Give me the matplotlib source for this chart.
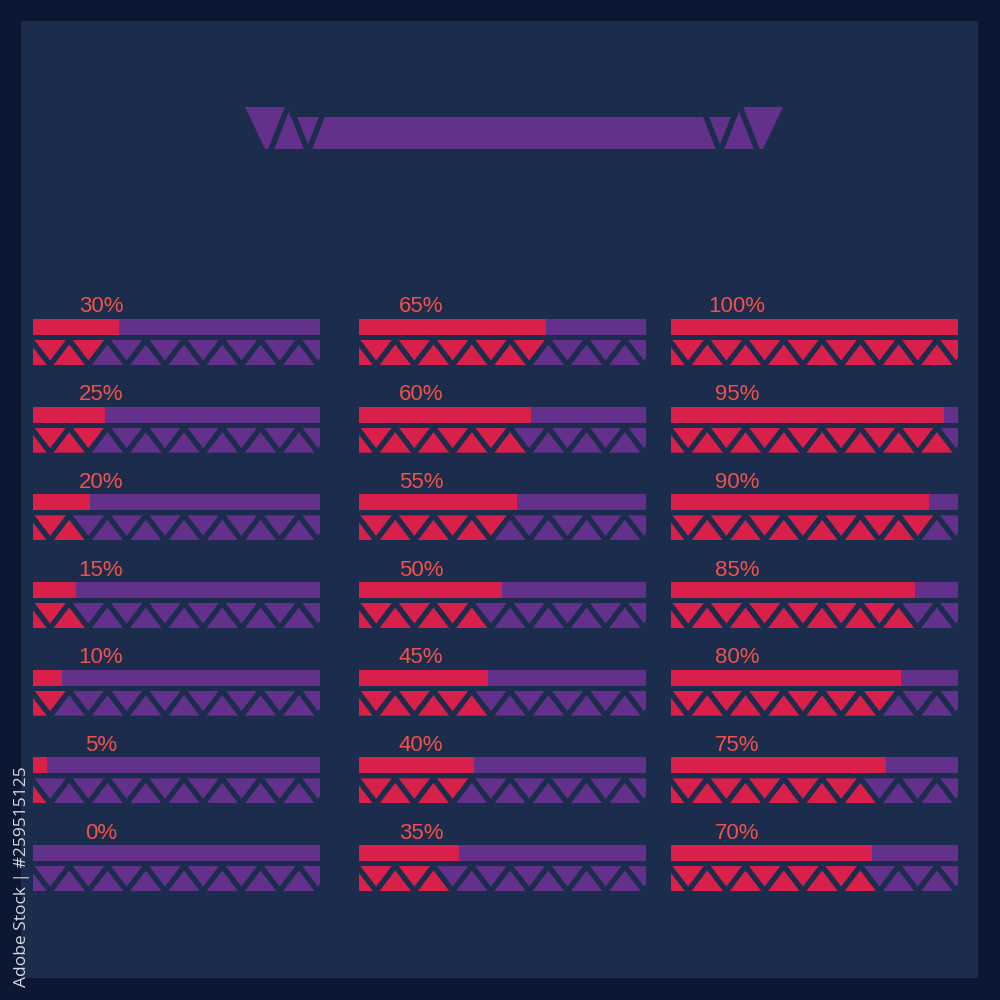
import numpy as np
import matplotlib
matplotlib.use('Agg')
import matplotlib.pyplot as plt
from matplotlib.patches import Rectangle, Polygon

FRAME = '#0c1733'
PANEL = '#1c2c4c'
RED = '#d8204b'
PURPLE = '#63308c'
LABEL = '#f0524a'

# percent values, one list per column (top to bottom)
left_pct = [30, 25, 20, 15, 10, 5, 0]
mid_pct = [65, 60, 55, 50, 45, 40, 35]
right_pct = [100, 95, 90, 85, 80, 75, 70]
# how many triangles of the zigzag strip are filled red
left_tri = [4, 4, 3, 3, 2, 1, 0]
mid_tri = [10, 9, 8, 7, 7, 6, 5]
right_tri = [17, 15, 14, 13, 12, 11, 11]

# layout in pixels (1000x1000 canvas)
col_x = [33, 359, 671]
label_x = [101, 421, 737]
BAR_W = 287
ROW0 = 319
ROW_STEP = 87.67
BLOCK_H = 46   # bar 0-16, strip 21-46

fig = plt.figure(figsize=(10, 10), dpi=100)
fig.patch.set_facecolor(FRAME)
bg = fig.add_axes([0, 0, 1, 1])
bg.set_xlim(0, 1000)
bg.set_ylim(1000, 0)
bg.axis('off')
bg.add_patch(Rectangle((21, 21), 957, 957, color=PANEL, lw=0))

# header ribbon
bg.add_patch(Polygon([(245, 107), (290, 107), (290, 117), (738, 117), (738, 107),
                      (783, 107), (763, 149), (265, 149)], closed=True,
                     color=PURPLE, lw=0))
bg.plot([270, 289, 308, 327], [152, 104, 152, 104], color=PANEL, lw=4.0,
        solid_joinstyle='miter')
bg.plot([758, 739, 720, 701], [152, 104, 152, 104], color=PANEL, lw=4.0,
        solid_joinstyle='miter')

bg.text(22, 877, 'Adobe Stock | #259515125', rotation=90, ha='center', va='center',
        fontsize=12.5, color='#d6d9e0', family='Open Sans')


def draw_meter(x0, top, pct, n_red):
    ax = fig.add_axes([x0 / 1000, 1 - (top + BLOCK_H) / 1000, BAR_W / 1000, BLOCK_H / 1000])
    ax.set_xlim(0, 100)
    ax.set_ylim(BLOCK_H, 0)
    ax.axis('off')
    ax.patch.set_alpha(0)
    ax.barh(8, 100, height=16, color=PURPLE, lw=0)
    ax.barh(8, pct, height=16, color=RED, lw=0)

    clip = Rectangle((0, 21), 100, 25, transform=ax.transData)
    step = 100 / 15
    ks = np.arange(-1, 18)
    v = -0.7 + step * ks
    ys = np.where(ks % 2 == 0, 21, 46)
    for j in range(0, 17):
        i = j + 1
        tri = Polygon([(v[i - 1], ys[i - 1]), (v[i], ys[i]), (v[i + 1], ys[i + 1])],
                      closed=True, color=RED if j < n_red else PURPLE, lw=0)
        ax.add_patch(tri)
        tri.set_clip_path(clip)
    ln, = ax.plot(v, ys, color=PANEL, lw=3.9, solid_joinstyle='miter')
    ln.set_clip_path(clip)


for c, (pcts, tris) in enumerate([(left_pct, left_tri), (mid_pct, mid_tri),
                                    (right_pct, right_tri)]):
    for r, (p, n) in enumerate(zip(pcts, tris)):
        top = ROW0 + r * ROW_STEP
        draw_meter(col_x[c], top, p, n)
        bg.text(label_x[c], top - 12, f'{p}%', ha='center', va='center',
                fontsize=16, color=LABEL, family='Liberation Sans')

fig.savefig('out.png', dpi=100, facecolor=FRAME)
